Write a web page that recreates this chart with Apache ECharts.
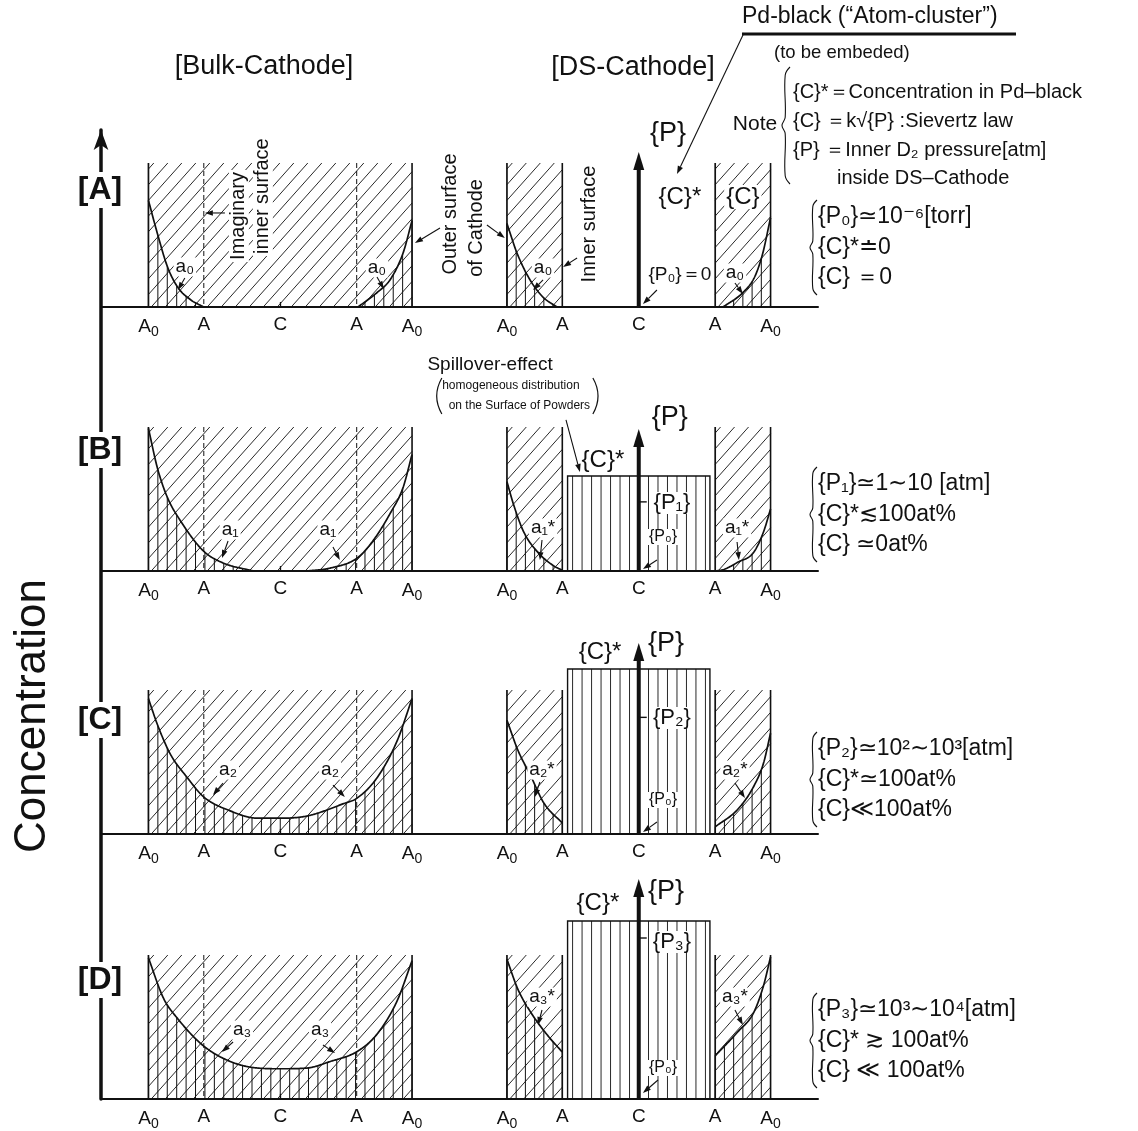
<!DOCTYPE html>
<html><head><meta charset="utf-8">
<script src="https://cdn.jsdelivr.net/npm/echarts@6/dist/echarts.min.js"></script>
<style>html,body{margin:0;padding:0;background:#fff}#c{width:1138px;height:1131px}</style>
</head><body><div id="c"></div>
<script>
// ================= DATA =================
const panelNames = ['[A]', '[B]', '[C]', '[D]'];
const tickPositions = [-50, -29, 0, 29, 50, 86, 107, 136, 165, 186];
const tickLabels = ['A0', 'A', 'C', 'A', 'A0', 'A0', 'A', 'C', 'A', 'A0'];
const bulkCenter = 0;
const dsCenter = 136;
const outerSurface = 50;     // A0 (relative to cathode centre)
const innerSurface = 29;     // A
const blockTop = 100;        // drawn height of the cathode material
const pdHalfWidth = 27;      // Pd-black filling inside DS-cathode

// concentration profiles (x relative to cathode centre, concentration)
const bulkProfiles = [
  [[[-50, 74], [-46.6, 51], [-42.8, 28], [-39, 14], [-34, 5], [-29, 0]],
   [[29.5, 0], [36.7, 10], [41.7, 19], [46.6, 37.5], [50, 60]]],
  [[[-50, 99], [-46.6, 71.5], [-42.8, 51], [-37.9, 35], [-29.2, 14], [-21.6, 5.5], [-10.2, 0]],
   [[10.2, 0], [18.9, 2], [29.2, 9], [35.2, 21], [41.7, 40], [46.6, 58], [50, 81]]],
  [[[-50, 94], [-46.6, 76], [-41.7, 55.5], [-35.2, 39], [-29.2, 26], [-18.9, 16], [-8.7, 11], [0, 11],
    [10.2, 12.5], [23.9, 21], [29.2, 25], [36.7, 39], [44.3, 64.5], [50, 94]]],
  [[[-50, 98], [-44.3, 70], [-39, 56], [-29.2, 37], [-18.9, 26], [-8.7, 21.5], [0, 21], [10.2, 21.5],
    [18.9, 26], [29.2, 33], [36.7, 45], [44.3, 68], [50, 96]]]
];
const dsProfiles = [
  [[[-50, 58], [-46.2, 37.5], [-41.3, 19], [-36.4, 7], [-31, 0]],
   [[32, 0], [39.5, 10], [44, 21], [47, 37], [50, 62]]],
  [[[-50, 62], [-47.3, 45], [-43.6, 27], [-38.3, 13], [-32.2, 3.5], [-29, 0.5]],
   [[29, 0], [32.2, 1], [37.5, 6], [43.6, 13], [47.3, 27], [50, 43]]],
  [[[-50, 79], [-45.8, 58], [-40.9, 40], [-36, 21.5], [-29, 7.6]],
   [[29, 5], [37.5, 17], [43.6, 33], [47.3, 49], [50, 70]]],
  [[[-50, 97], [-45.8, 76], [-40.9, 60], [-34.5, 44], [-29, 32.6]],
   [[29, 30], [37.5, 46.5], [43.6, 60], [47.3, 78.5], [50, 98.6]]]
];
const pdBlackTop = [0, 66, 114.6, 123.6];          // {C}* level (0 = empty)
const pressureArrowTop = [107.6, 98.6, 132.6, 152.8];
const pressureLevel = [0, 48, 81, 111.8];          // {P1},{P2},{P3} marks (0 = none)

const noteTitle = 'Pd-black (“Atom-cluster”)';
const noteSub = '(to be embeded)';
const noteLines = ['{C}*＝Concentration in Pd–black', '{C} ＝k√{P} :Sievertz law',
  '{P} ＝Inner D₂ pressure[atm]', 'inside DS–Cathode'];
const conditionLines = [
  ['{P₀}≃10⁻⁶[torr]', '{C}*≐0', '{C} ＝0'],
  ['{P₁}≃1∼10 [atm]', '{C}*≲100at%', '{C} ≃0at%'],
  ['{P₂}≃10²∼10³[atm]', '{C}*≃100at%', '{C}≪100at%'],
  ['{P₃}≃10³∼10⁴[atm]', '{C}* ≳ 100at%', '{C} ≪ 100at%']
];

// ================= LAYOUT =================
const FONT = "'Liberation Sans', Arial, sans-serif";
const INK = '#111';
const rowBaseline = [307, 571, 834, 1099];
const rowHeight = 144;
const gridLeft = 101, gridWidth = 717;
const xMin = -68, xMax = 204;

// annotations in data coordinates of each row
const annotations = [
  [
    {t: 'text', x: -15.7, y: 63.2, s: 'Imaginary', size: 20, rot: 1, bg: 1},
    {t: 'text', x: -6.6, y: 77, s: 'inner surface', size: 20, rot: 1, bg: 1},
    {t: 'arrow', x1: -21, y1: 65.3, x2: -28.6, y2: 65.3},
    {t: 'text', x: -36.2, y: 27.8, s: 'a₀', size: 19, bg: 1},
    {t: 'arrow', x1: -36.2, y1: 20.1, x2: -38.8, y2: 11.8},
    {t: 'text', x: 36.7, y: 27.1, s: 'a₀', size: 19, bg: 1},
    {t: 'arrow', x1: 36.7, y1: 20.8, x2: 39.3, y2: 12.5},
    {t: 'arrow', x1: 60.6, y1: 54.9, x2: 51.1, y2: 44.4},
    {t: 'text', x: 64.4, y: 64.6, s: 'Outer surface', size: 20, rot: 1},
    {t: 'text', x: 74.6, y: 54.9, s: 'of Cathode', size: 20, rot: 1},
    {t: 'arrow', x1: 78.4, y1: 56.9, x2: 85.2, y2: 47.9},
    {t: 'text', x: 99.7, y: 27.1, s: 'a₀', size: 19, bg: 1},
    {t: 'arrow', x1: 99.7, y1: 18.8, x2: 95.9, y2: 11.8},
    {t: 'arrow', x1: 112.6, y1: 34, x2: 107.3, y2: 27.8},
    {t: 'text', x: 117.5, y: 57.6, s: 'Inner surface', size: 20, rot: 1},
    {t: 'text', x: 147.1, y: 120.8, s: '{P}', size: 27},
    {t: 'text', x: 151.6, y: 76.4, s: '{C}*', size: 24},
    {t: 'text', x: 175.5, y: 76.4, s: '{C}', size: 24, bg: 1},
    {t: 'text', x: 151.6, y: 22.2, s: '{P₀}＝0', size: 19},
    {t: 'arrow', x1: 142.9, y1: 11.8, x2: 137.6, y2: 2},
    {t: 'text', x: 172.5, y: 23.6, s: 'a₀', size: 19, bg: 1},
    {t: 'arrow', x1: 172.5, y1: 16.7, x2: 175.5, y2: 9},
    {t: 'arrow', x1: 175.9, y1: 190.3, x2: 150.5, y2: 92.4}
  ],
  [
    {t: 'text', x: 79.6, y: 143.5, s: 'Spillover-effect', size: 19},
    {t: 'text', x: 87.5, y: 128.5, s: 'homogeneous distribution', size: 12},
    {t: 'text', x: 90.7, y: 114.6, s: 'on the Surface of Powders', size: 12},
    {t: 'paren', x1: 61.3, y1: 134, x2: 61.3, y2: 109, cx: 57.4, cy: 121.5},
    {t: 'paren', x1: 118.6, y1: 134, x2: 118.6, y2: 109, cx: 122.5, cy: 121.5},
    {t: 'arrow', x1: 108.4, y1: 104.9, x2: 113.7, y2: 68.75},
    {t: 'text', x: 122.4, y: 77.1, s: '{C}*', size: 24},
    {t: 'text', x: 147.8, y: 106.9, s: '{P}', size: 27},
    {t: 'text', x: 148.6, y: 47.2, s: '{P₁}', size: 22, bg: 1},
    {t: 'text', x: 145.2, y: 23.6, s: '{P₀}', size: 16, bg: 1},
    {t: 'arrow', x1: 142.9, y1: 7.6, x2: 137.6, y2: 1.4},
    {t: 'text', x: 99.7, y: 29.9, s: 'a₁*', size: 19, bg: 1},
    {t: 'arrow', x1: 99.3, y1: 21.5, x2: 98.5, y2: 7.6},
    {t: 'text', x: 173.3, y: 29.9, s: 'a₁*', size: 19, bg: 1},
    {t: 'arrow', x1: 173.3, y1: 20.1, x2: 174, y2: 7.6},
    {t: 'text', x: -19, y: 28.5, s: 'a₁', size: 19, bg: 1},
    {t: 'arrow', x1: -19.8, y1: 20.8, x2: -22.1, y2: 9},
    {t: 'text', x: 18.1, y: 28.5, s: 'a₁', size: 19, bg: 1},
    {t: 'arrow', x1: 20, y1: 16.7, x2: 22.6, y2: 7.6}
  ],
  [
    {t: 'text', x: 121.3, y: 126.4, s: '{C}*', size: 24},
    {t: 'text', x: 146.3, y: 132.6, s: '{P}', size: 27},
    {t: 'text', x: 148.6, y: 80.6, s: '{P₂}', size: 22, bg: 1},
    {t: 'text', x: 145.2, y: 23.6, s: '{P₀}', size: 16, bg: 1},
    {t: 'arrow', x1: 142.9, y1: 8.3, x2: 137.6, y2: 1.4},
    {t: 'text', x: 99.3, y: 44.4, s: 'a₂*', size: 19, bg: 1},
    {t: 'arrow', x1: 98.5, y1: 36.1, x2: 96.6, y2: 25.7},
    {t: 'text', x: 172.5, y: 44.4, s: 'a₂*', size: 19, bg: 1},
    {t: 'arrow', x1: 172.5, y1: 35.4, x2: 176.3, y2: 25},
    {t: 'text', x: -19.8, y: 44.4, s: 'a₂', size: 19, bg: 1},
    {t: 'arrow', x1: -21.7, y1: 35.4, x2: -25.5, y2: 27.1},
    {t: 'text', x: 18.9, y: 44.4, s: 'a₂', size: 19, bg: 1},
    {t: 'arrow', x1: 20, y1: 34, x2: 24.5, y2: 25.7}
  ],
  [
    {t: 'text', x: 120.5, y: 136.1, s: '{C}*', size: 24},
    {t: 'text', x: 146.3, y: 143.75, s: '{P}', size: 27},
    {t: 'text', x: 148.6, y: 109, s: '{P₃}', size: 22, bg: 1},
    {t: 'text', x: 145.2, y: 21.5, s: '{P₀}', size: 16, bg: 1},
    {t: 'arrow', x1: 143.3, y1: 13.2, x2: 137.6, y2: 4.2},
    {t: 'text', x: 99.3, y: 70.8, s: 'a₃*', size: 19, bg: 1},
    {t: 'arrow', x1: 99.3, y1: 61.8, x2: 97.8, y2: 51.4},
    {t: 'text', x: 172.5, y: 70.8, s: 'a₃*', size: 19, bg: 1},
    {t: 'arrow', x1: 172.5, y1: 61.8, x2: 175.5, y2: 51.4},
    {t: 'text', x: -14.5, y: 47.9, s: 'a₃', size: 19, bg: 1},
    {t: 'arrow', x1: -17.9, y1: 39.6, x2: -22.1, y2: 32.6},
    {t: 'text', x: 15.1, y: 47.9, s: 'a₃', size: 19, bg: 1},
    {t: 'arrow', x1: 16.2, y1: 37.5, x2: 20.8, y2: 31.9}
  ]
];

// ================= HELPERS =================
function monotone(pts) {
  const n = pts.length, xs = pts.map(p => p[0]), ys = pts.map(p => p[1]);
  const d = [], m = new Array(n);
  for (let i = 0; i < n - 1; i++) d.push((ys[i + 1] - ys[i]) / (xs[i + 1] - xs[i]));
  m[0] = d[0]; m[n - 1] = d[n - 2];
  for (let i = 1; i < n - 1; i++) m[i] = d[i - 1] * d[i] <= 0 ? 0 : (d[i - 1] + d[i]) / 2;
  for (let i = 0; i < n - 1; i++) {
    if (d[i] === 0) { m[i] = 0; m[i + 1] = 0; continue; }
    const a = m[i] / d[i], b = m[i + 1] / d[i], s = a * a + b * b;
    if (s > 9) { const t = 3 / Math.sqrt(s); m[i] = t * a * d[i]; m[i + 1] = t * b * d[i]; }
  }
  return function (x) {
    let i = 0;
    while (i < n - 2 && x > xs[i + 1]) i++;
    const h = xs[i + 1] - xs[i], t = Math.min(1, Math.max(0, (x - xs[i]) / h));
    const t2 = t * t, t3 = t2 * t;
    return (2 * t3 - 3 * t2 + 1) * ys[i] + (t3 - 2 * t2 + t) * h * m[i] +
      (-2 * t3 + 3 * t2) * ys[i + 1] + (t3 - t2) * h * m[i + 1];
  };
}
const tickLabelOf = {};
tickPositions.forEach((v, i) => { tickLabelOf[v] = tickLabels[i]; });

function lineEl(x1, y1, x2, y2, w, dash) {
  return {type: 'line', shape: {x1, y1, x2, y2},
    style: {stroke: INK, lineWidth: w, lineDash: dash || null}};
}

// cathode walls with diagonal hatching
function renderBlock(params, api) {
  const x0 = api.value(0), x1 = api.value(1), top = api.value(2), kind = api.value(3);
  const pb = api.coord([x0, 0]), pt = api.coord([x1, top]);
  const X0 = pb[0], Y1 = pb[1], X1 = pt[0], Y0 = pt[1];
  const ch = [];
  const gap = 14, s = 1.12;
  for (let c = s * X0 + Y0 + 6; c < s * X1 + Y1; c += s * gap) {
    const xa = Math.max(X0, (c - Y1) / s), xb = Math.min(X1, (c - Y0) / s);
    if (xb - xa < 1.5) continue;
    ch.push(lineEl(xa, c - s * xa, xb, c - s * xb, 0.9));
  }
  ch.push(lineEl(X0, Y0, X0, Y1, 1.7));
  ch.push(lineEl(X1, Y0, X1, Y1, 1.6));
  if (kind === 0) {
    [-innerSurface, innerSurface].forEach(v => {
      const a = api.coord([bulkCenter + v, 0]), b = api.coord([bulkCenter + v, top]);
      ch.push(lineEl(a[0], b[1], a[0], a[1], 1, [5, 3]));
    });
  }
  return {type: 'group', children: ch};
}

function makeProfileRender(pieces) {
  return function (params, api) {
    const pc = pieces[params.dataIndex];
    const f = monotone(pc.pts);
    const lo = pc.pts[0][0], hi = pc.pts[pc.pts.length - 1][0];
    const ch = [];
    for (let k = 0; k < 60; k++) {
      const xr = pc.origin + pc.dir * k * pc.step;
      if (xr < lo - 0.01 || xr > hi + 0.01) continue;
      const v = f(xr);
      if (v < 1) continue;
      const a = api.coord([pc.center + xr, 0]), b = api.coord([pc.center + xr, v]);
      ch.push(lineEl(a[0], a[1], b[0], b[1], 1));
    }
    const pts = [];
    for (let x = lo; x <= hi + 1e-6; x += 0.25) pts.push(api.coord([pc.center + x, Math.max(0, f(x))]));
    ch.push({type: 'polyline', shape: {points: pts}, style: {stroke: INK, lineWidth: 1.7, fill: null}});
    return {type: 'group', children: ch};
  };
}

function renderPd(params, api) {
  const x0 = api.value(0), x1 = api.value(1), top = api.value(2);
  const pb = api.coord([x0, 0]), pt = api.coord([x1, top]);
  const ch = [];
  for (let k = 0; k < 40; k++) {
    const x = x0 + 1.9 + k * 3.6;
    if (x > x1 - 0.8) break;
    const p = api.coord([x, 0]);
    ch.push(lineEl(p[0], pt[1], p[0], pb[1], 0.9));
  }
  ch.push({type: 'rect', shape: {x: pb[0], y: pt[1], width: pt[0] - pb[0], height: pb[1] - pt[1]},
    style: {stroke: INK, lineWidth: 1.4, fill: null}});
  return {type: 'group', children: ch};
}

function renderPressure(params, api) {
  const x = api.value(0), top = api.value(1), lvl = api.value(2);
  const a = api.coord([x, 0]), b = api.coord([x, top]);
  const ch = [
    lineEl(a[0], a[1], b[0], b[1] + 14, 4),
    {type: 'polygon', shape: {points: [[b[0], b[1]], [b[0] - 5.5, b[1] + 18], [b[0] + 5.5, b[1] + 18]]},
      style: {fill: INK}}
  ];
  if (lvl > 0) {
    const p = api.coord([x, lvl]);
    ch.push(lineEl(p[0], p[1], p[0] + 8, p[1], 1.4));
  }
  return {type: 'group', children: ch};
}

function makeAnnotRender(list) {
  return function (params, api) {
    const a = list[params.dataIndex];
    if (a.t === 'text') {
      const p = api.coord([a.x, a.y]);
      return {type: 'text', x: p[0], y: p[1], rotation: a.rot ? Math.PI / 2 : 0,
        style: {text: a.s, x: 0, y: 0, textAlign: 'center', align: 'center',
          textVerticalAlign: 'middle', verticalAlign: 'middle',
          fontSize: a.size, fontFamily: FONT, fill: INK,
          backgroundColor: a.bg ? '#fff' : null, padding: a.bg ? [0, 2] : 0}};
    }
    if (a.t === 'paren') {
      const p1 = api.coord([a.x1, a.y1]), p2 = api.coord([a.x2, a.y2]), c = api.coord([a.cx, a.cy]);
      return {type: 'bezierCurve', shape: {x1: p1[0], y1: p1[1], x2: p2[0], y2: p2[1], cpx1: c[0], cpy1: c[1]},
        style: {stroke: INK, lineWidth: 1.2, fill: null}};
    }
    const p1 = api.coord([a.x1, a.y1]), p2 = api.coord([a.x2, a.y2]);
    const ang = Math.atan2(p2[1] - p1[1], p2[0] - p1[0]);
    const L = 8, W = 2.8;
    const bx = p2[0] - L * Math.cos(ang), by = p2[1] - L * Math.sin(ang);
    const nx = -Math.sin(ang) * W, ny = Math.cos(ang) * W;
    return {type: 'group', children: [
      lineEl(p1[0], p1[1], bx, by, 1.1),
      {type: 'polygon', shape: {points: [[p2[0], p2[1]], [bx + nx, by + ny], [bx - nx, by - ny]]}, style: {fill: INK}}
    ]};
  };
}

// ================= OPTION =================
const grids = [], xAxes = [], yAxes = [], series = [];
panelNames.forEach((name, r) => {
  grids.push({left: gridLeft, width: gridWidth, top: rowBaseline[r] - rowHeight, height: rowHeight});
  xAxes.push({
    gridIndex: r, type: 'value', min: xMin, max: xMax,
    axisLine: {show: true, onZero: false, lineStyle: {color: INK, width: 2}},
    axisTick: {show: true, inside: true, length: 5, customValues: [bulkCenter], lineStyle: {color: INK, width: 1.3}},
    axisLabel: {
      show: true, customValues: tickPositions, margin: 8, color: INK, fontSize: 19, fontFamily: FONT,
      formatter: v => { const s = tickLabelOf[v] || ''; return s === 'A0' ? 'A{s|0}' : s; },
      rich: {s: {fontSize: 14, fontFamily: FONT, color: INK, verticalAlign: 'bottom', lineHeight: 24}}
    },
    splitLine: {show: false}
  });
  yAxes.push({gridIndex: r, type: 'value', min: 0, max: 100, show: false});

  series.push({
    type: 'custom', name: 'Cathode ' + name, xAxisIndex: r, yAxisIndex: r, z: 2, silent: true,
    renderItem: renderBlock,
    data: [
      [bulkCenter - outerSurface, bulkCenter + outerSurface, blockTop, 0],
      [dsCenter - outerSurface, dsCenter - innerSurface, blockTop, 1],
      [dsCenter + innerSurface, dsCenter + outerSurface, blockTop, 1]
    ]
  });
  const pieces = [];
  bulkProfiles[r].forEach(pts => {
    const left = pts[0][0] <= -outerSurface + 0.01;
    pieces.push({pts, center: bulkCenter, origin: left ? -outerSurface : outerSurface, dir: left ? 1 : -1, step: 100 / 28});
  });
  dsProfiles[r].forEach(pts => {
    const left = pts[0][0] < 0;
    pieces.push({pts, center: dsCenter, origin: left ? -outerSurface : outerSurface, dir: left ? 1 : -1, step: 3.5});
  });
  series.push({
    type: 'custom', name: 'Profile ' + name, xAxisIndex: r, yAxisIndex: r, z: 3, silent: true,
    renderItem: makeProfileRender(pieces),
    data: pieces.map(p => [p.center + p.pts[0][0], p.pts[0][1]])
  });
  if (pdBlackTop[r] > 0) {
    series.push({
      type: 'custom', name: 'Pd-black ' + name, xAxisIndex: r, yAxisIndex: r, z: 3, silent: true,
      renderItem: renderPd,
      data: [[dsCenter - pdHalfWidth, dsCenter + pdHalfWidth, pdBlackTop[r]]]
    });
  }
  series.push({
    type: 'custom', name: 'Pressure ' + name, xAxisIndex: r, yAxisIndex: r, z: 4, silent: true,
    renderItem: renderPressure,
    data: [[dsCenter, pressureArrowTop[r], pressureLevel[r]]]
  });
  const list = annotations[r];
  series.push({
    type: 'custom', name: 'Notes ' + name, xAxisIndex: r, yAxisIndex: r, z: 6, silent: true,
    renderItem: makeAnnotRender(list),
    data: list.map(a => a.t === 'text' ? [a.x, a.y] : [a.x1, a.y1])
  });
});
grids.push({left: gridLeft, width: 10, top: 130, bottom: 1131 - rowBaseline[3]});
xAxes.push({gridIndex: 4, type: 'value', show: false});
yAxes.push({gridIndex: 4, type: 'value', min: 0, max: 1,
  axisLine: {show: true, symbol: ['none', 'arrow'], symbolSize: [11, 20], lineStyle: {color: INK, width: 3.5}},
  axisTick: {show: false}, axisLabel: {show: false}, splitLine: {show: false}});

function gText(x, y, text, size, opt) {
  opt = opt || {};
  return {type: 'text', x, y, z: 100, rotation: opt.rot || 0,
    style: {text, fontSize: size, fontFamily: FONT, fontWeight: opt.bold ? 'bold' : 'normal', fill: INK,
      textAlign: opt.align || 'left', align: opt.align || 'left',
      textVerticalAlign: 'middle', verticalAlign: 'middle',
      backgroundColor: opt.bg ? '#fff' : null, padding: opt.bg ? [2, 0] : 0}};
}
function brace(x, y1, y2, w) {
  const h = y2 - y1;
  return {type: 'polyline', z: 100,
    shape: {points: [[x + w, y1], [x + w * 0.4, y1 + h * 0.07], [x + w * 0.4, y1 + h * 0.43], [x, y1 + h * 0.5],
      [x + w * 0.4, y1 + h * 0.57], [x + w * 0.4, y1 + h * 0.93], [x + w, y2]], smooth: 0.4},
    style: {stroke: INK, lineWidth: 1.1, fill: null}};
}
const g = [];
g.push(gText(264, 67, '[Bulk-Cathode]', 27, {align: 'center'}));
g.push(gText(633, 68, '[DS-Cathode]', 27, {align: 'center'}));
g.push(gText(742, 17, noteTitle, 23));
g.push({type: 'line', z: 100, shape: {x1: 742, y1: 34, x2: 1016, y2: 34}, style: {stroke: INK, lineWidth: 3}});
g.push(gText(774, 53, noteSub, 18.5));
g.push(gText(755, 124, 'Note', 21, {align: 'center'}));
g.push(brace(782, 67, 184, 8));
[92, 121, 150].forEach((y, i) => g.push(gText(793, y, noteLines[i], 20)));
g.push(gText(837, 178, noteLines[3], 20));
const condTop = [217, 484, 749, 1010];
condTop.forEach((y0, r) => {
  g.push(brace(810, y0 - 17, y0 + 78, 7));
  conditionLines[r].forEach((s, i) => g.push(gText(818, y0 + i * 30.5, s, 23)));
});
const panelLabelY = [190, 450, 720, 980];
panelNames.forEach((n, r) => g.push(gText(100, panelLabelY[r], n, 32, {align: 'center', bold: 1, bg: 1})));
g.push(gText(33, 716, 'Concentration', 44, {align: 'center', rot: Math.PI / 2}));

const chart = echarts.init(document.getElementById('c'), null, {renderer: 'canvas'});
chart.setOption({
  animation: false,
  backgroundColor: '#fff',
  grid: grids, xAxis: xAxes, yAxis: yAxes, series,
  graphic: {elements: g}
});
</script>
</body></html>
